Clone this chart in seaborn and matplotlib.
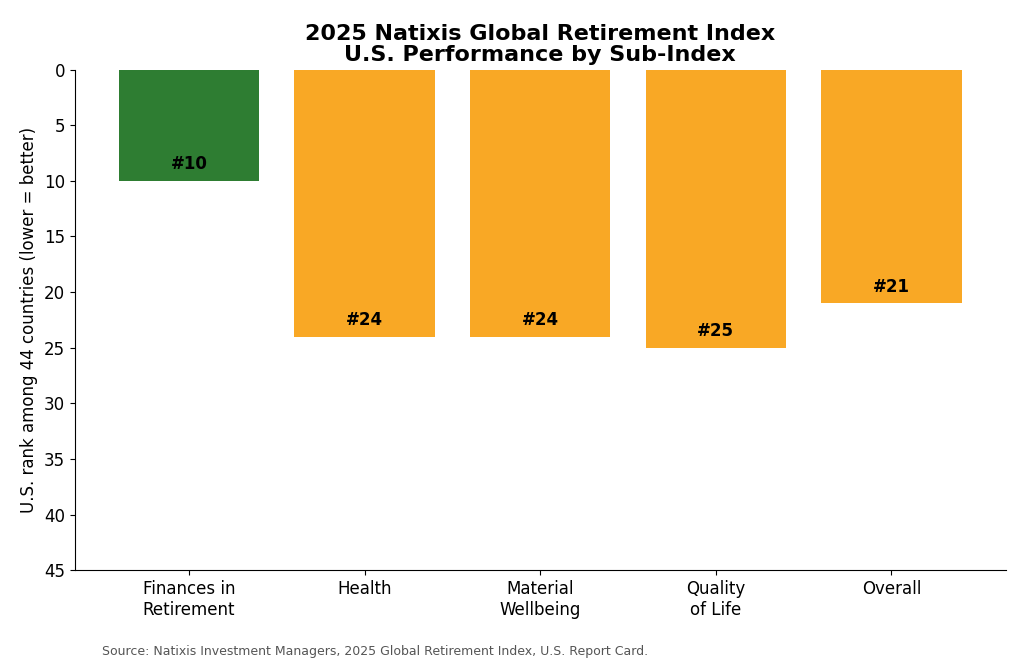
import matplotlib
matplotlib.use("Agg")
import matplotlib.pyplot as plt
import seaborn as sns
import pandas as pd

categories = ["Finances in\nRetirement", "Health", "Material\nWellbeing", "Quality\nof Life", "Overall"]
ranks = [10, 24, 24, 25, 21]
colors = ["#2e7d32", "#f9a825", "#f9a825", "#f9a825", "#f9a825"]

df = pd.DataFrame({"cat": categories, "rank": ranks})

fig = plt.figure(figsize=(10.24, 6.63), dpi=100)
ax = fig.add_axes([0.073, 0.14, 0.909, 0.755])
sns.barplot(data=df, x="cat", y="rank", hue="cat", palette=colors, legend=False,
            width=0.8, saturation=1, ax=ax)
ax.set_ylim(45, 0)
ax.set_xlim(-0.65, 4.65)
ax.set_yticks(range(0, 46, 5))
ax.set_xlabel("")
ax.set_ylabel("U.S. rank among 44 countries (lower = better)", fontsize=12)
ax.tick_params(labelsize=12)
for i, r in enumerate(ranks):
    ax.text(i, r - 1.5, f"#{r}", ha="center", va="center", fontsize=12, fontweight="bold")
ax.spines["top"].set_visible(False)
ax.spines["right"].set_visible(False)
ax.set_title("2025 Natixis Global Retirement Index\nU.S. Performance by Sub-Index",
             fontsize=16, fontweight="bold", linespacing=1.1)
fig.text(0.1, 0.008, "Source: Natixis Investment Managers, 2025 Global Retirement Index, U.S. Report Card.",
         fontsize=9, color="#555555", va="bottom")
fig.savefig("out.png", dpi=100)
